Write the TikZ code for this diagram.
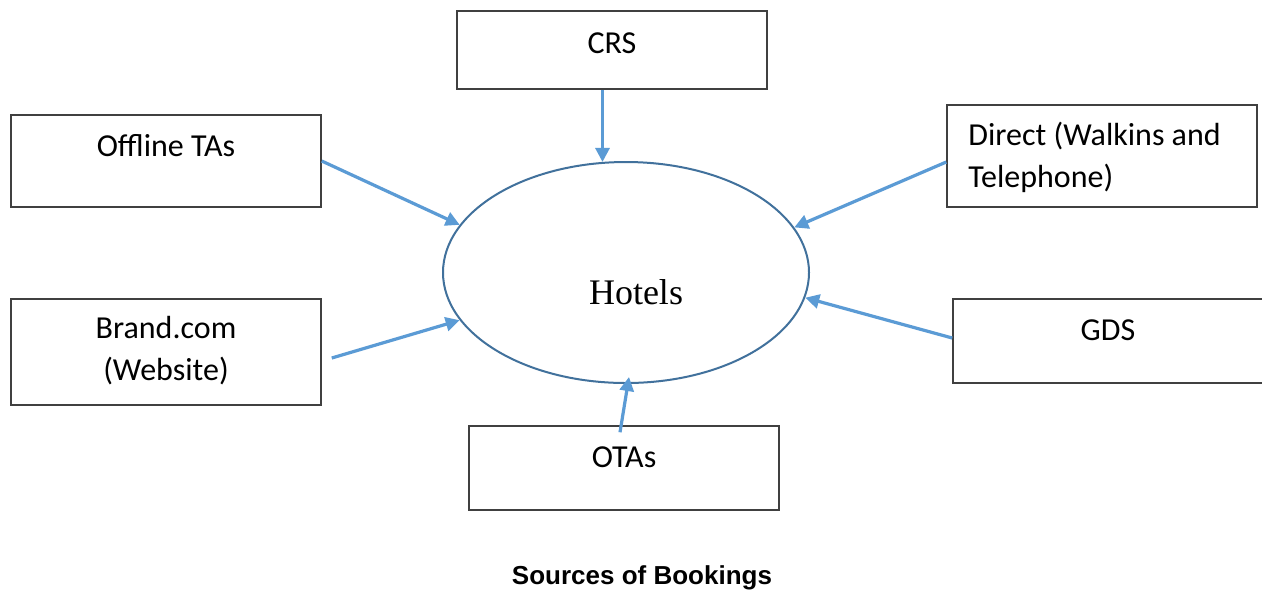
\documentclass[tikz,border=0pt]{standalone}
\usepackage{fontspec}
\setmainfont{Carlito}
\newfontfamily\hotelfont{Liberation Serif}
\newfontfamily\capfont{Liberation Sans}
\usepackage{tikz}
\usetikzlibrary{positioning, arrows.meta, shapes.geometric, calc}

\definecolor{feedblue}{HTML}{5B9BD5}
\definecolor{ringblue}{HTML}{41719C}
\definecolor{boxgray}{HTML}{404040}

\begin{document}
\begin{tikzpicture}[
    x=0.5pt, y=-0.5pt,
    srcbox/.style={draw=boxgray, line width=0.75pt, rectangle, minimum width=155pt, inner sep=0pt},
    srctext/.style={font=\fontsize{16}{21}\selectfont, inner sep=0pt},
    feed/.style={-{Triangle[length=7pt, width=7pt]}, line width=1.6pt, feedblue}
]
    % Page
    \clip (0, 0) rectangle (1262, 591);
    \fill[white] (0, 0) rectangle (1262, 591);

    % Centre
    \node[draw=ringblue, line width=1pt, ellipse, minimum width=183pt, minimum height=110.5pt, inner sep=0pt]
        (hotel) at (626, 272.5) {};
    \node[font=\hotelfont\fontsize{18}{22}\selectfont, inner sep=0pt] (hoteltext) at (636, 292) {Hotels};

    % Sources
    \node[srcbox, minimum height=39pt] (crs) at (612, 50) {};
    \node[srctext] (crstext) at (612, 43) {CRS};

    \node[srcbox, minimum height=46pt] (offline) at (166, 161) {};
    \node[srctext] (offlinetext) at (166, 146) {Offline TAs};

    \node[srcbox, minimum height=53pt] (brand) at (166, 352) {};
    \node[srctext, align=center] (brandtext) at (166, 351) {Brand.com\\(Website)};

    \node[srcbox, minimum height=51pt] (direct) at (1102, 156) {};
    \node[srctext, align=left, anchor=west] (directtext) at (968, 157) {Direct (Walkins and\\Telephone)};

    \node[srcbox, minimum height=42pt] (gds) at (1108, 341) {};
    \node[srctext] (gdstext) at (1108, 330) {GDS};

    \node[srcbox, minimum height=42pt] (ota) at (624, 468) {};
    \node[srctext] (otatext) at (624, 457) {OTAs};

    % Arrows into the centre
    \draw[feed] (crs.south -| hotel.102) -- (hotel.102);
    \draw[feed] (offline.east) -- (hotel.164);
    \draw[feed] ([xshift=5pt, yshift=-3pt]brand.east) -- (hotel.196);
    \draw[feed] ([xshift=-2pt, yshift=-3.5pt]ota.north) -- ([xshift=1.5pt, yshift=3.5pt]hotel.south);
    \draw[feed] ([yshift=-3pt]direct.west) -- (hotel.15);
    \draw[feed] ([yshift=1.5pt]gds.west) -- (hotel.352);

    % Caption
    \node[font=\capfont\bfseries\fontsize{13}{16}\selectfont, inner sep=0pt] (caption) at (642, 578) {Sources of Bookings};
\end{tikzpicture}
\end{document}
